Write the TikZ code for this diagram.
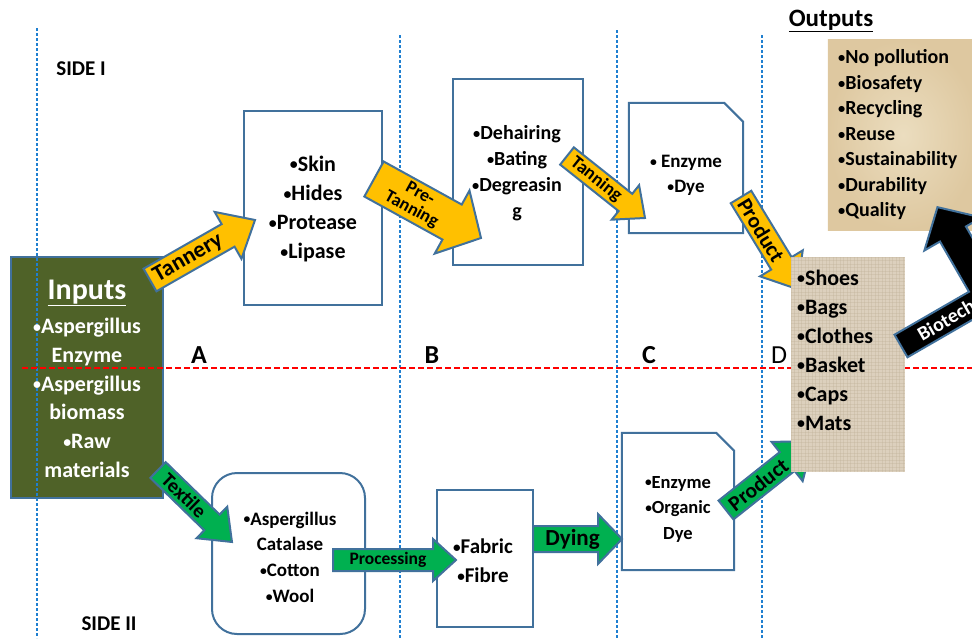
\documentclass[tikz,border=0pt]{standalone}
\usepackage{fontspec}
\usepackage{graphicx}
\setmainfont{Carlito}
\usetikzlibrary{calc}

\definecolor{edge}{HTML}{41719C}
\definecolor{guide}{HTML}{1F7FD0}
\definecolor{olive}{HTML}{4F6228}
\definecolor{amber}{HTML}{FFC000}
\definecolor{leaf}{HTML}{00B050}
\definecolor{burlap}{HTML}{DCD0BD}
\definecolor{burlapdark}{HTML}{BDAE95}
\definecolor{parchin}{HTML}{EBDDBF}
\definecolor{parchout}{HTML}{DEC8A0}

\newcommand\fsz[2]{\fontsize{#1}{#2}\selectfont}
% small list bullet
\newcommand\bu{\raisebox{0.06em}{\scalebox{0.72}{•}}}

\tikzset{
  box/.style={draw=edge, line width=2pt, fill=white, inner sep=0pt},
  shell/.style={draw=none, inner sep=0pt},
  blockline/.style={draw=edge, line width=2pt, line join=miter},
  guideline/.style={guide, line width=1.6pt, dash pattern=on 3pt off 2pt},
  midline/.style={red, line width=1.6pt, dash pattern=on 6pt off 3pt},
  txt/.style={align=center, inner sep=0pt},
  weave/.style={burlapdark, line width=0.5pt, opacity=0.3},
}

% block arrow from tail coordinate #1 to tip coordinate #2
% #3 body half width, #4 head half width, #5 head length, #6 fill,
% #7 label, #8 label font, #9 label shift along the arrow
\newcommand\blockarrow[9]{%
  \path let \p1=($(#2)-(#1)$) in
    \pgfextra{\pgfmathsetmacro\tmpang{atan2(\y1,\x1)}%
              \pgfmathsetmacro\tmplen{veclen(\x1,\y1)}%
              \xdef\arrang{\tmpang}\xdef\arrlen{\tmplen}};
  \begin{scope}[shift={(#1)}, rotate=\arrang]
    \pgfmathsetmacro\hb{\arrlen-#5}
    \draw[blockline, fill=#6] (0,#3) -- (\hb,#3) -- (\hb,#4) -- (\arrlen,0)
      -- (\hb,-#4) -- (\hb,-#3) -- (0,-#3) -- cycle;
    \node[txt, rotate=\arrang, font={\bfseries#8}] (#1-lbl) at (\hb/2+#9,0) {#7};
  \end{scope}
}

\begin{document}
\begin{tikzpicture}[x=1pt, y=-1pt, font=\bfseries]
\useasboundingbox (0,0) rectangle (972,638);
\clip (0,0) rectangle (972,638);

% inputs block
\node[box, fill=olive, minimum width=152, minimum height=241] (inputs) at (87,377.5) {};

% column guides and the side divider
\foreach \gx/\gy in {37/28, 400/35, 617/30, 762/35}
  \draw[guideline] (\gx,\gy) -- (\gx,638);
\draw[midline] (22,368) -- (972,368);

% inputs text
\node[txt, white, font={\bfseries\fsz{30}{34}}] (intitle) at (87,293) {\underline{Inputs}};
\node[txt, white, font={\bfseries\fsz{22}{28.7}}] (inlist) at (87,398)
  {\bu Aspergillus\\Enzyme\\\bu Aspergillus\\biomass\\\bu Raw\\materials};

% side I boxes
\node[box, minimum width=138, minimum height=194] (b1) at (313,208) {};
\node[txt, font={\bfseries\fsz{22}{29.3}}] (b1t) at (313,209) {\bu Skin\\\bu Hides\\\bu Protease\\\bu Lipase};

\node[box, minimum width=130, minimum height=186] (b2) at (518,172) {};
\node[txt, font={\bfseries\fsz{20}{26}}] (b2t) at (517,173) {\bu Dehairing\\\bu Bating\\\bu Degreasin\\g};

\node[shell, minimum width=114, minimum height=130] (b3) at (686,168) {};
\draw[blockline, fill=white] (b3.south west) -- (b3.north west) -- ([xshift=-19pt]b3.north east)
  -- ([yshift=-19pt]b3.north east) -- (b3.south east) -- cycle;
\node[txt, font={\bfseries\fsz{19}{25}}] (b3t) at (686,175) {\bu\ Enzyme\\\bu Dye};

% side II boxes
\node[box, rounded corners=25pt, minimum width=153, minimum height=161] (b4) at (288.5,553.5) {};
\node[txt, font={\bfseries\fsz{19}{25.7}}] (b4t) at (290,557) {\bu Aspergillus\\Catalase\\\bu Cotton\\\bu Wool};

\node[box, minimum width=96, minimum height=137] (b5) at (485,558.5) {};
\node[txt, font={\bfseries\fsz{21}{29}}] (b5t) at (483,561) {\bu Fabric\\\bu Fibre};

\node[shell, minimum width=112, minimum height=137] (b6) at (678,501.5) {};
\draw[blockline, fill=white] (b6.south west) -- (b6.north west) -- ([xshift=-18pt]b6.north east)
  -- ([yshift=-18pt]b6.north east) -- (b6.south east) -- cycle;
\node[txt, font={\bfseries\fsz{18.5}{25.5}}] (b6t) at (678,509) {\bu Enzyme\\\bu Organic\\Dye};

% arrow end points
\coordinate (tanT) at (150,280);  \coordinate (tanH) at (255,220);
\coordinate (preT) at (374,179);  \coordinate (preH) at (481,238);
\coordinate (tngT) at (567,156);  \coordinate (tngH) at (645,218);
\coordinate (prdT) at (741,197);  \coordinate (prdH) at (797,289);
\coordinate (texT) at (158,470);  \coordinate (texH) at (232,542);
\coordinate (proT) at (333,560);  \coordinate (proH) at (456,560);
\coordinate (dyeT) at (533,539);  \coordinate (dyeH) at (622,539);
\coordinate (pdbT) at (726,510);  \coordinate (pdbH) at (813,441);

\blockarrow{tanT}{tanH}{13}{27}{31}{amber}{Tannery}{\fsz{23}{25}}{-1}
\blockarrow{preT}{preH}{20}{36}{33}{amber}{Pre-\\Tanning}{\fsz{18}{18}}{3}
\blockarrow{tngT}{tngH}{11}{22}{25}{amber}{Tanning}{\fsz{18.5}{20}}{0}
\blockarrow{prdT}{prdH}{12}{25}{30}{amber}{Product}{\fsz{21.5}{23}}{0}
\blockarrow{texT}{texH}{11}{22}{28}{leaf}{Textile}{\fsz{20}{22}}{-1}
\blockarrow{proT}{proH}{11}{21}{23}{leaf}{Processing}{\fsz{17.5}{19}}{5}
\blockarrow{dyeT}{dyeH}{13}{25}{24}{leaf}{Dying}{\fsz{23}{25}}{7}
\blockarrow{pdbT}{pdbH}{12}{25}{33}{leaf}{Product}{\fsz{21.5}{23}}{2}

% products block with a woven texture
\node[shell, fill=burlap, minimum width=114, minimum height=215] (prod) at (848,364.5) {};
\begin{scope}
  \clip (prod.south west) rectangle (prod.north east);
  \foreach \k in {0,3.5,...,216} \draw[weave] ([yshift=-\k pt]prod.north west) -- ++(114,0);
  \foreach \k in {0,3.5,...,115} \draw[weave] ([xshift=\k pt]prod.north west) -- ++(0,215);
\end{scope}
\node[txt, anchor=west, align=left, font={\bfseries\fsz{22}{29}}] (prodt) at (797,350)
  {\bu Shoes\\\bu Bags\\\bu Clothes\\\bu Basket\\\bu Caps\\\bu Mats};

% outputs block on parchment
\node[shell, minimum width=150, minimum height=190] (outp) at (903,135) {};
\shade[inner color=parchin, outer color=parchout] (outp.north west) rectangle (outp.south east);
\node[txt, anchor=west, align=left, font={\bfseries\fsz{20}{25.5}}] (outpt) at (838,135)
  {\bu No pollution\\\bu Biosafety\\\bu Recycling\\\bu Reuse\\\bu Sustainability\\\bu Durability\\\bu Quality};
\node[txt, font={\bfseries\fsz{25}{27}}] (outhead) at (831,21) {\underline{Outputs}};

% bent biotech arrow from products up to outputs
\coordinate (bioT) at (901,346);
\begin{scope}[shift={(bioT)}, rotate=30]
  \draw[blockline, fill=black] (0,13) -- (116,13) -- (116,-71) -- (134,-71) -- (101,-102)
    -- (68,-71) -- (86,-71) -- (86,-13) -- (0,-13) -- cycle;
  \node[txt, white, rotate=30, font={\bfseries\fsz{20}{22}}] (biolbl) at (52,0) {Biotech};
\end{scope}

% section letters and side titles
\node[txt, font={\bfseries\fsz{26}{28}}] (colA) at (199,355) {A};
\node[txt, font={\bfseries\fsz{26}{28}}] (colB) at (432,355) {B};
\node[txt, font={\bfseries\fsz{26}{28}}] (colC) at (649,355) {C};
\node[txt, font={\mdseries\fsz{26}{28}}] (colD) at (779,355) {D};
\node[txt, font={\bfseries\fsz{21}{23}}] (side1) at (81,69) {SIDE I};
\node[txt, font={\bfseries\fsz{21}{23}}] (side2) at (109,624) {SIDE II};
\end{tikzpicture}
\end{document}
